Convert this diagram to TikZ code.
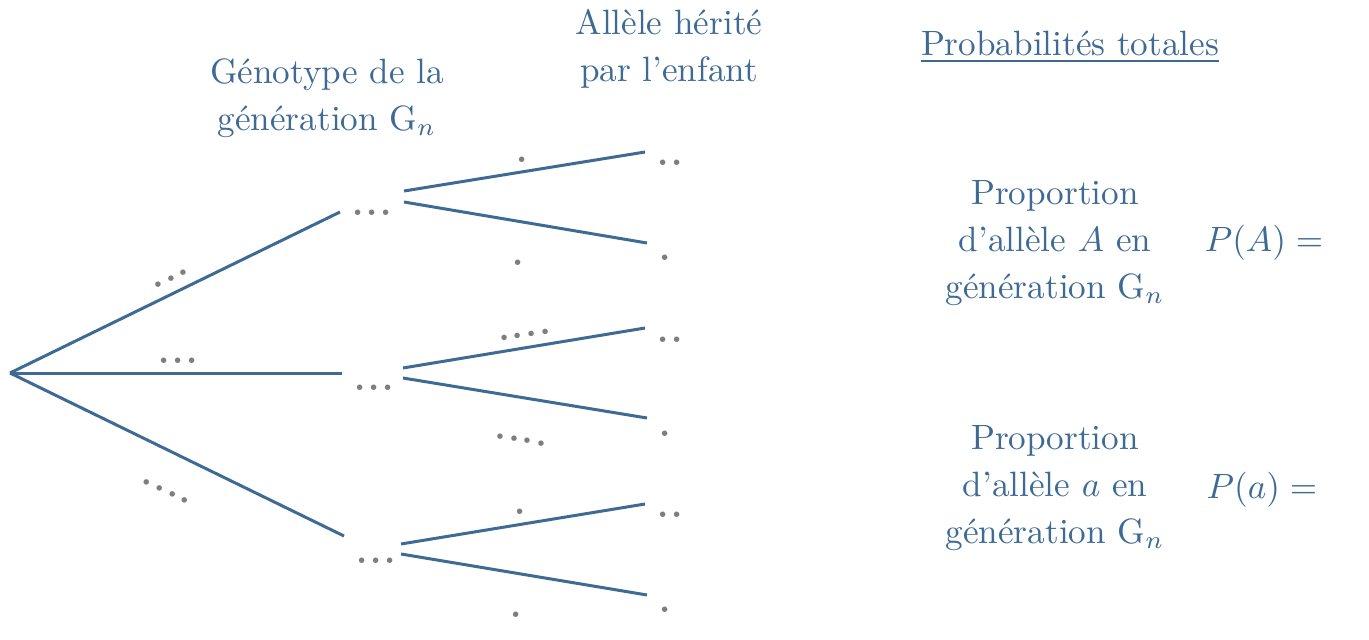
\documentclass[tikz,border=0pt]{standalone}
\usepackage{tikz}
\tikzset{every picture/.append style={font=\fontsize{10}{13.4}\selectfont}}
\definecolor{treeblue}{HTML}{3E6A94}
\definecolor{dotgray}{HTML}{7E7E7E}
\newcommand{\pts}[1]{\foreach \k in {1,...,#1}{\makebox[4pt]{\textbf{.}}}}
\tikzset{
  branch/.style={treeblue,line width=0.85pt},
  pts/.style={text=dotgray,inner sep=0pt},
  txt/.style={text=treeblue,align=center,inner sep=0pt}
}

\begin{document}
\begin{tikzpicture}[x=0.01cm,y=-0.01cm]
    \useasboundingbox (0,0) rectangle (1369,639);
    % titles
    \node[txt] (tgen) at (327,98) {Génotype de la\\génération G$_n$};
    \node[txt] (tall) at (669,49) {Allèle hérité\\par l'enfant};
    \node[txt] (tpro) at (1070,47) {\underline{Probabilités totales}};
    % tree points
    \coordinate (r) at (10,373);
    \coordinate (g1) at (340,212);
    \coordinate (g2) at (342,373);
    \coordinate (g3) at (344,536);
    \coordinate (g1u) at (404,191); \coordinate (g1d) at (404,202);
    \coordinate (g2u) at (403,368); \coordinate (g2d) at (403,378);
    \coordinate (g3u) at (401,544); \coordinate (g3d) at (401,554);
    \coordinate (e11) at (645,152); \coordinate (e12) at (647,243);
    \coordinate (e21) at (645,328); \coordinate (e22) at (647,418);
    \coordinate (e31) at (645,504); \coordinate (e32) at (647,595);
    % branches
    \draw[branch] (r) -- (g1);
    \draw[branch] (r) -- (g2);
    \draw[branch] (r) -- (g3);
    \draw[branch] (g1u) -- (e11);
    \draw[branch] (g1d) -- (e12);
    \draw[branch] (g2u) -- (e21);
    \draw[branch] (g2d) -- (e22);
    \draw[branch] (g3u) -- (e31);
    \draw[branch] (g3d) -- (e32);
    % genotypes
    \node[pts] (n1) at (372,213) {\pts{3}};
    \node[pts] (n2) at (374,388) {\pts{3}};
    \node[pts] (n3) at (376,561) {\pts{3}};
    % alleles
    \node[pts] (l11) at (670,163) {\pts{2}};
    \node[pts] (l12) at (665,258) {\pts{1}};
    \node[pts] (l21) at (670,340) {\pts{2}};
    \node[pts] (l22) at (665,434) {\pts{1}};
    \node[pts] (l31) at (670,515) {\pts{2}};
    \node[pts] (l32) at (665,610) {\pts{1}};
    % probabilities on branches
    \node[pts,rotate=25] (a1) at (171,279) {\pts{3}};
    \node[pts] (a2) at (178,361) {\pts{3}};
    \node[pts,rotate=-25] (a3) at (166,491) {\pts{4}};
    \node[pts] (b11) at (522,160) {\pts{1}};
    \node[pts] (b12) at (518,263) {\pts{1}};
    \node[pts,rotate=9] (b21) at (525,335) {\pts{4}};
    \node[pts,rotate=-9] (b22) at (521,440) {\pts{4}};
    \node[pts] (b31) at (520,512) {\pts{1}};
    \node[pts] (b32) at (516,615) {\pts{1}};
    % totals
    \node[txt] (pA) at (1055,243) {Proportion\\d'allèle $A$ en\\génération G$_n$};
    \node[txt] (eA) at (1264,243) {$P(A) =$};
    \node[txt] (pa) at (1055,488) {Proportion\\d'allèle $a$ en\\génération G$_n$};
    \node[txt] (ea) at (1262,490) {$P(a) =$};
  \end{tikzpicture}
\end{document}
